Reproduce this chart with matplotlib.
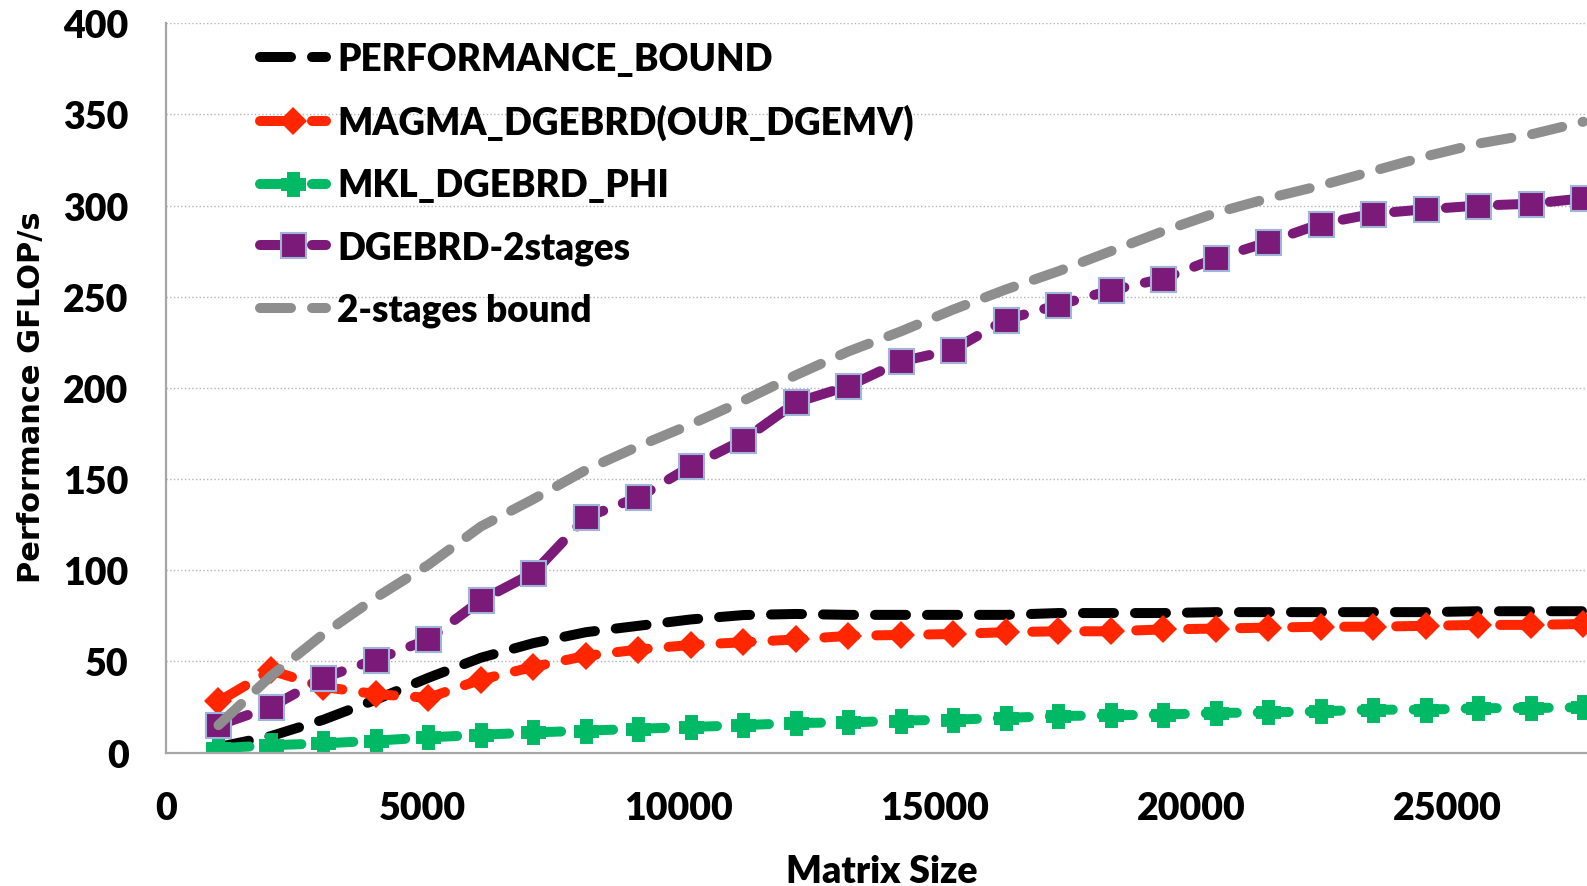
import matplotlib
matplotlib.use('Agg')
import matplotlib.pyplot as plt
from matplotlib.ticker import MultipleLocator

# matrix sizes (n = 1024 .. 27648)
sizes = [1024, 2048, 3072, 4096, 5120, 6144, 7168, 8192, 9216, 10240,
         11264, 12288, 13312, 14336, 15360, 16384, 17408, 18432, 19456,
         20480, 21504, 22528, 23552, 24576, 25600, 26624, 27648]

perf_bound = [3, 9, 18, 29, 41, 52, 60, 66, 69.5, 73, 75.4, 76, 75.5, 75.5,
              75.5, 75.5, 76.5, 76.5, 76.5, 77, 77, 77, 77, 77, 77.5, 77.5, 77.5]
magma = [28, 45, 36, 32, 30, 40, 47, 53, 56.5, 59, 60.5, 62, 64, 64.5, 65,
         66, 66.5, 66.5, 67.5, 68, 68.5, 69, 69, 69.5, 70, 70, 70.5]
mkl = [2.3, 4, 5, 6.5, 8.3, 9.7, 11, 12, 13, 14, 15, 16.2, 16.5, 17.5, 18,
       19, 20, 20.4, 20.8, 21.7, 22, 22.6, 23.5, 23.5, 24.3, 24.4, 24.8]
two_stage = [15, 25, 41, 51, 62, 83.5, 98.5, 129, 140, 157, 171.5, 192, 201,
             214.5, 221, 237.5, 245.5, 253.5, 260, 271, 280, 290, 295.5, 298,
             300, 301, 304]
two_stage_bound = [15, 42, 65, 85, 103, 124, 139, 155, 168, 180, 193, 207,
                   220, 231, 243, 254, 264, 275, 286, 296, 304, 311, 319, 327,
                   334, 339, 346]

labels = ['PERFORMANCE_BOUND', 'MAGMA_DGEBRD(OUR_DGEMV)', 'MKL_DGEBRD_PHI',
          'DGEBRD-2stages', '2-stages bound']
xticks = [0, 5000, 10000, 15000, 20000, 25000]

FONT = 'Lato'
LW = 7.2
DASH = (3.1, 2.1)

fig = plt.figure(figsize=(15.87, 8.87), dpi=100)
ax = fig.add_axes([0.1046, 0.1505, 0.969, 0.8221])

common = dict(linewidth=LW, dashes=DASH, dash_capstyle='round')

ax.plot(sizes, perf_bound, color='black', label=labels[0], **common)
ax.plot(sizes, magma, color='#ff2600', marker='D', markersize=14.5,
        markeredgewidth=0, label=labels[1], **common)
ax.plot(sizes, mkl, color='#00b964', marker='P', markersize=13,
        markeredgecolor='#00b964', markeredgewidth=5, label=labels[2], **common)
ax.plot(sizes, two_stage, color='#7b1a78', marker='s', markersize=18,
        markeredgecolor='#9fb4d9', markeredgewidth=1.5, label=labels[3], **common)
ax.plot(sizes, two_stage_bound, color='#8e8e8e', label=labels[4], **common)

ax.set_xlim(0, 30000)
ax.set_ylim(0, 400)
ax.set_xticks(xticks)
ax.yaxis.set_major_locator(MultipleLocator(50))
ax.grid(axis='y', color='#b5b5b5', linestyle=':', linewidth=1.0)
ax.set_axisbelow(True)

for s in ['top', 'right']:
    ax.spines[s].set_visible(False)
for s in ['left', 'bottom']:
    ax.spines[s].set_color('#a6a6a6')
    ax.spines[s].set_linewidth(1.6)

ax.tick_params(length=0, labelsize=27)
ax.tick_params(axis='y', pad=27)
ax.tick_params(axis='x', pad=28)
for t in ax.get_xticklabels() + ax.get_yticklabels():
    t.set_fontfamily(FONT)
    t.set_fontweight('heavy')

fig.text(32 / 1587, 1 - 397 / 887, 'Performance GFLOP/s', rotation=90,
         ha='center', va='center', fontsize=22, fontweight='bold',
         fontfamily='DejaVu Sans')
fig.text(882 / 1587, 1 - 872 / 887, 'Matrix Size', ha='center', va='center',
         fontsize=27, fontweight='heavy', fontfamily=FONT)

leg = ax.legend(loc='upper left', bbox_to_anchor=(260 / 1587, 1 - 43 / 887),
                bbox_transform=fig.transFigure, frameon=False, borderpad=0,
                borderaxespad=0, handlelength=1.8, handletextpad=0.3,
                labelspacing=0.76,
                prop={'family': FONT, 'weight': 'heavy', 'size': 26.5})

fig.savefig('out.png', dpi=100)
